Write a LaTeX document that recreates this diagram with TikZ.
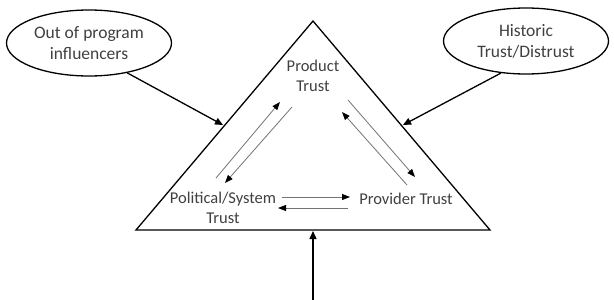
\documentclass[tikz,border=0pt]{standalone}
\usepackage{fontspec}
\setmainfont{Carlito}
\usetikzlibrary{arrows.meta,shapes.geometric}
\begin{document}
\begin{tikzpicture}[x=1pt,y=-1pt,
  txt/.style={font=\fontsize{16.5}{20}\selectfont, align=center, text=black!75, inner sep=0pt},
  oval/.style={draw, ellipse, line width=1.3pt, minimum width=165pt, minimum height=66pt, txt, font=\fontsize{17.5}{21}\selectfont},
  mainarrow/.style={line width=1.3pt, -{Triangle[length=8pt,width=7pt]}},
  thinarrow/.style={draw=black!55, line width=0.8pt, -{Triangle[length=8pt,width=6pt,fill=black,color=black]}}
]
\useasboundingbox (0,0) rectangle (614,300);
% triangle
\coordinate (apex) at (313,21);
\coordinate (bl) at (136,230);
\coordinate (br) at (490,230);
\draw[line width=1.3pt, line join=miter] (apex) -- (br) -- (bl) -- cycle;
% ellipses
\node[oval] (out) at (89,43) {Out of program\\influencers};
\node[oval] (hist) at (526,41) {Historic\\Trust/Distrust};
% labels
\node[txt] (prod) at (313,76) {Product\\Trust};
\node[txt] (pol) at (223,208) {Political/System\\Trust};
\node[txt] (prov) at (406,199) {Provider Trust};
% outer arrows
\coordinate (leftin) at (223,125);
\coordinate (rightin) at (403,125);
\coordinate (basein) at (313,231);
\coordinate (bottom) at (313,300);
\draw[mainarrow] (out.-38) -- (leftin);
\draw[mainarrow] (hist.-128) -- (rightin);
\draw[mainarrow] (bottom) -- (basein);
% inner arrows
\coordinate (a1s) at (216,178); \coordinate (a1e) at (280,102);
\coordinate (a2s) at (292,107); \coordinate (a2e) at (225,183);
\coordinate (a3s) at (348,100); \coordinate (a3e) at (415,177);
\coordinate (a4s) at (407,185); \coordinate (a4e) at (342,112);
\coordinate (a5s) at (282,197); \coordinate (a5e) at (350,197);
\coordinate (a6s) at (348,208); \coordinate (a6e) at (278,208);
\draw[thinarrow] (a1s) -- (a1e);
\draw[thinarrow] (a2s) -- (a2e);
\draw[thinarrow] (a3s) -- (a3e);
\draw[thinarrow] (a4s) -- (a4e);
\draw[thinarrow] (a5s) -- (a5e);
\draw[thinarrow] (a6s) -- (a6e);
\end{tikzpicture}
\end{document}
